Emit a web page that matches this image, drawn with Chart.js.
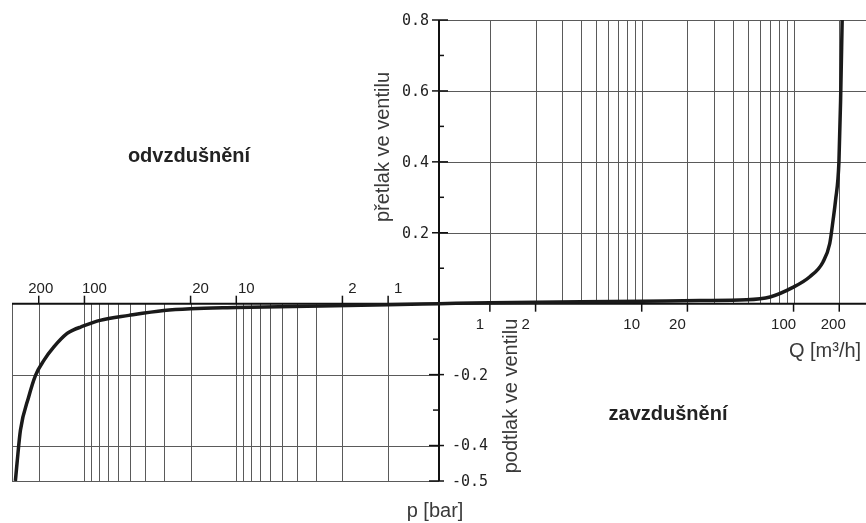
<!DOCTYPE html>
<html>
<head>
<meta charset="utf-8">
<script src="https://cdn.jsdelivr.net/npm/chart.js@4.4.1/dist/chart.umd.min.js"></script>
<style>
  body { margin: 0; background: #fff; }
  canvas { display: block; }
</style>
</head>
<body>
<canvas id="myChart" width="866" height="523"></canvas>
<script>
// flow Q [m3/h] (negative = odvzdusneni side) and pressure p [bar]
var flowQ = [-285, -278, -264, -233, -210, -185, -159, -130, -118, -106, -79, -51, -30, -20, -10, -1,
    0, 1, 10, 24, 49, 70, 99, 128, 156, 173, 182, 189, 199, 204, 209];
var pressure = [-0.50, -0.45, -0.357, -0.263, -0.202, -0.160, -0.122, -0.084, -0.074, -0.066, -0.047, -0.033, -0.019, -0.014, -0.011, -0.003,
    0, 0.003, 0.007, 0.009, 0.011, 0.019, 0.046, 0.076, 0.117, 0.169, 0.235, 0.291, 0.40, 0.57, 0.80];

var gridQ = [1, 2, 3, 4, 5, 6, 7, 8, 9, 10, 20, 30, 40, 50, 60, 70, 80, 90, 100, 200, 300];
var labelQ = [1, 2, 10, 20, 100, 200];
var posTicks = [0.2, 0.4, 0.6, 0.8];
var posMinor = [0.1, 0.3, 0.5, 0.7];
var negTicks = [-0.2, -0.4, -0.5];
var negMinor = [-0.1, -0.3];
var qMax = 300;
var pMin = -0.5;
var pMax = 0.8;

// mirrored log axis, both halves start ~1/3 decade from the centre
var OFFSET = 0.335;
function sx(q) {
    if (q === 0) return 0;
    return Math.sign(q) * (Math.log10(Math.abs(q)) + OFFSET);
}

var points = [];
for (var i = 0; i < flowQ.length; i++) {
    points.push({x: sx(flowQ[i]), y: pressure[i]});
}

var quadrants = {
    id: 'quadrants',
    beforeDatasetsDraw: function(chart) {
        var ctx = chart.ctx;
        var xs = chart.scales.x;
        var ys = chart.scales.y;
        var x0 = xs.getPixelForValue(0);
        var y0 = ys.getPixelForValue(0);
        var yTop = ys.getPixelForValue(pMax);
        var yBot = ys.getPixelForValue(pMin);
        var xL = xs.getPixelForValue(sx(-qMax));
        var xR = xs.getPixelForValue(sx(qMax));
        ctx.save();
        ctx.strokeStyle = '#5a5a5a';
        ctx.lineWidth = 1;
        gridQ.forEach(function(q) {
            var px = Math.round(xs.getPixelForValue(sx(q))) + 0.5;
            ctx.beginPath(); ctx.moveTo(px, y0); ctx.lineTo(px, yTop); ctx.stroke();
            var nx = Math.round(xs.getPixelForValue(sx(-q))) + 0.5;
            ctx.beginPath(); ctx.moveTo(nx, y0); ctx.lineTo(nx, yBot); ctx.stroke();
        });
        posTicks.forEach(function(p) {
            var py = Math.round(ys.getPixelForValue(p)) + 0.5;
            ctx.beginPath(); ctx.moveTo(x0, py); ctx.lineTo(xR, py); ctx.stroke();
        });
        negTicks.forEach(function(p) {
            var py = Math.round(ys.getPixelForValue(p)) + 0.5;
            ctx.beginPath(); ctx.moveTo(xL, py); ctx.lineTo(x0, py); ctx.stroke();
        });

        // axes
        ctx.strokeStyle = '#111';
        ctx.lineWidth = 2;
        ctx.beginPath(); ctx.moveTo(xL, y0); ctx.lineTo(xR, y0); ctx.stroke();
        ctx.beginPath(); ctx.moveTo(x0, yTop); ctx.lineTo(x0, yBot); ctx.stroke();

        // tick marks
        ctx.lineWidth = 1.5;
        labelQ.forEach(function(q) {
            var nx = xs.getPixelForValue(sx(-q));
            ctx.beginPath(); ctx.moveTo(nx, y0); ctx.lineTo(nx, y0 - 8); ctx.stroke();
            var px = xs.getPixelForValue(sx(q));
            ctx.beginPath(); ctx.moveTo(px, y0); ctx.lineTo(px, y0 + 8); ctx.stroke();
        });
        posTicks.forEach(function(p) {
            var py = ys.getPixelForValue(p);
            ctx.beginPath(); ctx.moveTo(x0 - 7, py); ctx.lineTo(x0 + 9, py); ctx.stroke();
        });
        posMinor.forEach(function(p) {
            var py = ys.getPixelForValue(p);
            ctx.beginPath(); ctx.moveTo(x0, py); ctx.lineTo(x0 + 5, py); ctx.stroke();
        });
        negTicks.forEach(function(p) {
            var py = ys.getPixelForValue(p);
            ctx.beginPath(); ctx.moveTo(x0 - 10, py); ctx.lineTo(x0 + 5, py); ctx.stroke();
        });
        negMinor.forEach(function(p) {
            var py = ys.getPixelForValue(p);
            ctx.beginPath(); ctx.moveTo(x0 - 6, py); ctx.lineTo(x0, py); ctx.stroke();
        });
        ctx.restore();
    },
    afterDraw: function(chart) {
        var ctx = chart.ctx;
        var xs = chart.scales.x;
        var ys = chart.scales.y;
        var x0 = xs.getPixelForValue(0);
        var y0 = ys.getPixelForValue(0);
        ctx.save();
        ctx.fillStyle = '#222';
        ctx.font = '15px "Liberation Sans", Arial, sans-serif';
        ctx.textAlign = 'center';
        ctx.textBaseline = 'alphabetic';
        labelQ.forEach(function(q) {
            var shiftL = q === 200 ? 2 : 10;
            var shiftR = q === 200 ? 6 : 10;
            ctx.fillText(String(q), xs.getPixelForValue(sx(-q)) + shiftL, y0 - 11);
            ctx.fillText(String(q), xs.getPixelForValue(sx(q)) - shiftR, y0 + 25);
        });

        ctx.font = '15px "DejaVu Sans Mono", monospace';
        ctx.textBaseline = 'middle';
        ctx.textAlign = 'right';
        posTicks.forEach(function(p) {
            ctx.fillText(p.toFixed(1), x0 - 10, ys.getPixelForValue(p) + 1);
        });
        ctx.textAlign = 'left';
        negTicks.forEach(function(p) {
            ctx.fillText(p.toFixed(1), x0 + 13, ys.getPixelForValue(p) + 1);
        });

        ctx.fillStyle = '#3a3a3a';
        ctx.font = '20px "Liberation Sans", Arial, sans-serif';
        ctx.textAlign = 'center';
        ctx.textBaseline = 'alphabetic';
        ctx.fillText('Q [m\u00b3/h]', 825, 357);
        ctx.fillText('p [bar]', 435, 517);

        ctx.textBaseline = 'middle';
        ctx.save();
        ctx.translate(383, 147);
        ctx.rotate(-Math.PI / 2);
        ctx.fillText('přetlak ve ventilu', 0, 0);
        ctx.restore();
        ctx.save();
        ctx.translate(511, 396);
        ctx.rotate(-Math.PI / 2);
        ctx.fillText('podtlak ve ventilu', 0, 0);
        ctx.restore();

        ctx.fillStyle = '#222';
        ctx.font = 'bold 20px "Liberation Sans", Arial, sans-serif';
        ctx.textBaseline = 'alphabetic';
        ctx.fillText('odvzdušnění', 189, 162);
        ctx.fillText('zavzdušnění', 668, 420);
        ctx.restore();
    }
};

var ctx = document.getElementById("myChart");
var myChart = new Chart(ctx, {
    type: 'line',
    data: {
        datasets: [{
            data: points,
            borderColor: '#1a1a1a',
            borderWidth: 3.5,
            pointRadius: 0,
            fill: false,
            cubicInterpolationMode: 'monotone'
        }]
    },
    options: {
        responsive: false,
        animation: false,
        layout: {padding: {left: 12, right: 0, top: 20, bottom: 42}},
        plugins: {legend: {display: false}, tooltip: {enabled: false}},
        scales: {
            x: {type: 'linear', display: false, min: sx(-qMax), max: sx(qMax)},
            y: {type: 'linear', display: false, min: pMin, max: pMax}
        }
    },
    plugins: [quadrants]
});
</script>
</body>
</html>
